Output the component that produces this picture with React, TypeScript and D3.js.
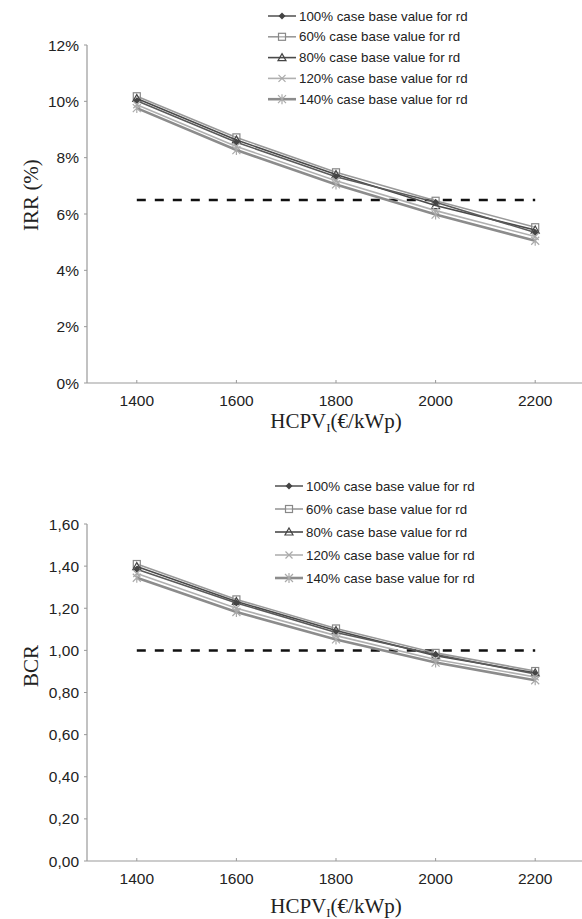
import React from "react";
import * as d3 from "d3";

const categories = [1400, 1600, 1800, 2000, 2200];
const seriesNames = [
  "100% case base value for rd",
  "60% case base value for rd",
  "80% case base value for rd",
  "120% case base value for rd",
  "140% case base value for rd",
];
// IRR (%) values
const irr100 = [10.02, 8.55, 7.32, 6.42, 5.34];
const irr60 = [10.18, 8.72, 7.48, 6.47, 5.53];
const irr80 = [10.1, 8.63, 7.4, 6.3, 5.43];
const irr120 = [9.88, 8.4, 7.18, 6.12, 5.2];
const irr140 = [9.76, 8.27, 7.05, 5.98, 5.05];
const irrThreshold = 6.5;
const irrTicks = [0, 2, 4, 6, 8, 10, 12];
// BCR values
const bcr100 = [1.385, 1.225, 1.085, 0.98, 0.888];
const bcr60 = [1.41, 1.242, 1.104, 0.988, 0.902];
const bcr80 = [1.398, 1.232, 1.094, 0.975, 0.893];
const bcr120 = [1.365, 1.2, 1.07, 0.957, 0.874];
const bcr140 = [1.345, 1.182, 1.052, 0.942, 0.858];
const bcrThreshold = 1.0;
const bcrTicks = [0, 0.2, 0.4, 0.6, 0.8, 1.0, 1.2, 1.4, 1.6];

type Style = { stroke: string; width: number; marker: string; mcolor: string };
const styles: Style[] = [
  { stroke: "#5a5a5a", width: 1.6, marker: "diamond", mcolor: "#444" },
  { stroke: "#999", width: 1.6, marker: "square", mcolor: "#888" },
  { stroke: "#4a4a4a", width: 1.6, marker: "triangle", mcolor: "#444" },
  { stroke: "#b0b0b0", width: 1.6, marker: "x", mcolor: "#aaa" },
  { stroke: "#8c8c8c", width: 2.6, marker: "star", mcolor: "#aaa" },
];

function Marker({ x, y, s }: { x: number; y: number; s: Style }) {
  const c = s.mcolor;
  switch (s.marker) {
    case "diamond":
      return <path d={`M${x},${y - 3.5}L${x + 3.5},${y}L${x},${y + 3.5}L${x - 3.5},${y}Z`} fill={c} />;
    case "square":
      return <rect x={x - 3.5} y={y - 3.5} width={7} height={7} fill="white" fillOpacity={0.3} stroke={c} strokeWidth={1.2} />;
    case "triangle":
      return <path d={`M${x},${y - 4}L${x + 4},${y + 3}L${x - 4},${y + 3}Z`} fill="none" stroke={c} strokeWidth={1.2} />;
    case "x":
      return <path d={`M${x - 3.5},${y - 3.5}L${x + 3.5},${y + 3.5}M${x - 3.5},${y + 3.5}L${x + 3.5},${y - 3.5}`} stroke={c} strokeWidth={1.2} />;
    default:
      return (
        <path
          d={`M${x - 4},${y - 4}L${x + 4},${y + 4}M${x - 4},${y + 4}L${x + 4},${y - 4}M${x},${y - 5}L${x},${y + 5}`}
          stroke={c}
          strokeWidth={1.2}
        />
      );
  }
}

type PanelProps = {
  top: number;
  bottom: number;
  yMax: number;
  ticks: number[];
  fmt: (v: number) => string;
  series: number[][];
  threshold: number;
  yTitle: string;
  yTitleY: number;
  legendTop: number;
  legendStep: number;
  legendX: number;
  tickLabelY: number;
  xTitleY: number;
};

function Panel(p: PanelProps) {
  const x = d3.scalePoint<number>().domain(categories).range([87, 585]).padding(0.5);
  const y = d3.scaleLinear().domain([0, p.yMax]).range([p.bottom, p.top]);
  const line = d3
    .line<number>()
    .x((_, i) => x(categories[i])!)
    .y((d) => y(d));
  const order = [1, 2, 0, 3, 4];
  return (
    <g>
      {/* y axis */}
      <line x1={87} x2={87} y1={p.top} y2={p.bottom} stroke="#999" strokeWidth={1.2} />
      {p.ticks.map((t) => (
        <g key={t}>
          <line x1={84} x2={87} y1={y(t)} y2={y(t)} stroke="#999" />
          <text x={79} y={y(t) + 5.5} textAnchor="end" fontFamily="Liberation Sans, Arial" fontSize={15.5} fill="#222">
            {p.fmt(t)}
          </text>
        </g>
      ))}
      {/* x axis */}
      <line x1={87} x2={582} y1={p.bottom} y2={p.bottom} stroke="#999" strokeWidth={1.2} />
      {categories.map((c) => (
        <g key={c}>
          <line x1={x(c)} x2={x(c)} y1={p.bottom - 3} y2={p.bottom} stroke="#999" />
          <text x={x(c)} y={p.tickLabelY} textAnchor="middle" fontFamily="Liberation Sans, Arial" fontSize={15.5} fill="#222">
            {c}
          </text>
        </g>
      ))}
      {/* threshold */}
      <line
        x1={x(categories[0])}
        x2={x(categories[categories.length - 1])}
        y1={y(p.threshold)}
        y2={y(p.threshold)}
        stroke="#111"
        strokeWidth={2.5}
        strokeDasharray="9,9"
      />
      {/* series */}
      {order.map((si) => (
        <g key={si}>
          <path d={line(p.series[si])!} fill="none" stroke={styles[si].stroke} strokeWidth={styles[si].width} />
          {p.series[si].map((v, i) => (
            <Marker key={i} x={x(categories[i])!} y={y(v)} s={styles[si]} />
          ))}
        </g>
      ))}
      {/* legend */}
      {seriesNames.map((n, i) => {
        const ly = p.legendTop + i * p.legendStep;
        return (
          <g key={n}>
            <line x1={p.legendX} x2={p.legendX + 28} y1={ly} y2={ly} stroke={styles[i].stroke} strokeWidth={styles[i].width} />
            <Marker x={p.legendX + 14} y={ly} s={styles[i]} />
            <text x={p.legendX + 31} y={ly + 4.5} fontFamily="Liberation Sans, Arial" fontSize={13.3} fill="#222">
              {n}
            </text>
          </g>
        );
      })}
      {/* titles */}
      <text
        transform={`translate(38,${p.yTitleY}) rotate(-90)`}
        textAnchor="middle"
        fontFamily="Liberation Serif, Times New Roman, serif"
        fontSize={21}
        fill="#222"
      >
        {p.yTitle}
      </text>
      <text x={336} y={p.xTitleY} textAnchor="middle" fontFamily="Liberation Serif, Times New Roman, serif" fontSize={21} fill="#222">
        HCPV
        <tspan fontSize={13} dy={4}>I</tspan>
        <tspan dy={-4}>(€/kWp)</tspan>
      </text>
    </g>
  );
}

export default function App() {
  return (
    <svg width={582} height={919} style={{ position: "absolute", left: 0, top: 0, background: "white" }}>
      <rect width={582} height={919} fill="white" />
      <Panel
        top={45}
        bottom={383}
        yMax={12}
        ticks={irrTicks}
        fmt={(v) => `${v}%`}
        series={[irr100, irr60, irr80, irr120, irr140]}
        threshold={irrThreshold}
        yTitle="IRR (%)"
        yTitleY={195}
        legendTop={16}
        legendStep={20.8}
        legendX={268}
        tickLabelY={406}
        xTitleY={428}
      />
      <Panel
        top={524}
        bottom={861}
        yMax={1.6}
        ticks={bcrTicks}
        fmt={(v) => v.toFixed(2).replace(".", ",")}
        series={[bcr100, bcr60, bcr80, bcr120, bcr140]}
        threshold={bcrThreshold}
        yTitle="BCR"
        yTitleY={666}
        legendTop={486}
        legendStep={23}
        legendX={275}
        tickLabelY={884}
        xTitleY={913}
      />
    </svg>
  );
}
